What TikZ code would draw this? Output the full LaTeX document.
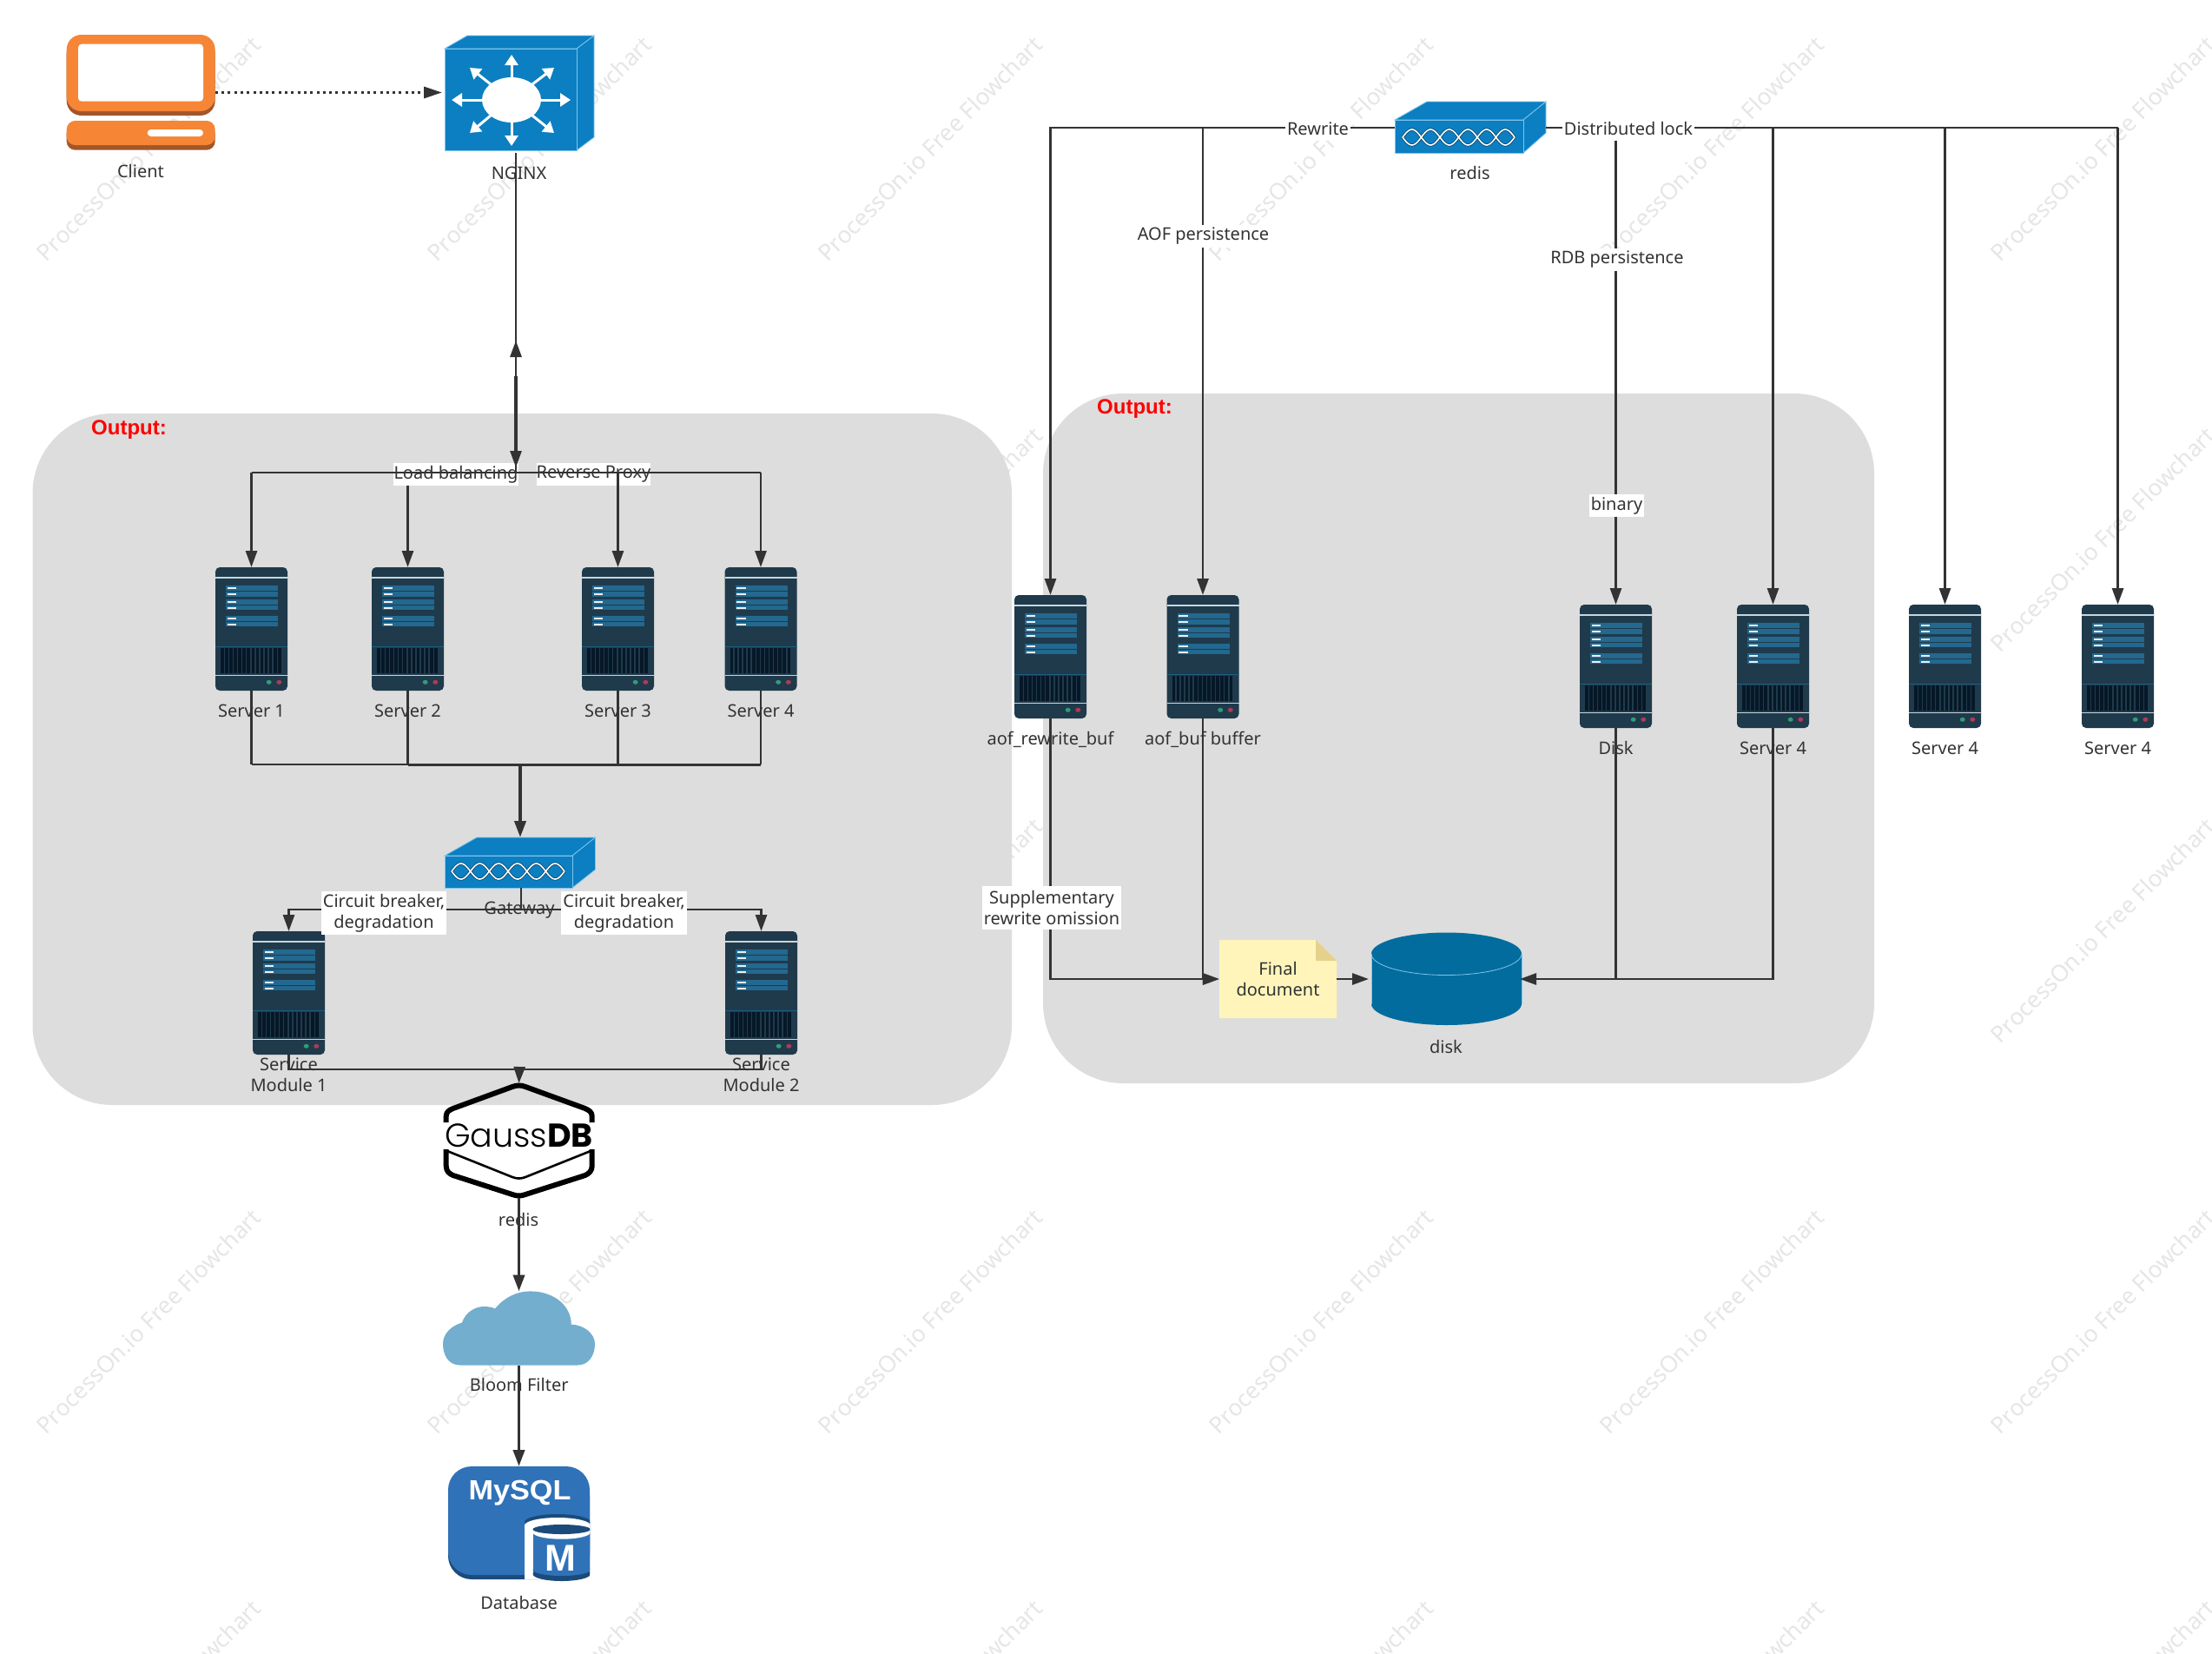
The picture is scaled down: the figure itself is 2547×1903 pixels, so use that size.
\documentclass[tikz,border=0pt]{standalone}
\usepackage{fontspec}
\setmainfont{Noto Sans}
\newfontfamily\gaussf{Poppins}
\newfontfamily\gausslight{Poppins Light}
\newfontfamily\mysqlf{Liberation Sans}
\usetikzlibrary{arrows.meta,calc}
\definecolor{linec}{HTML}{333333}
\definecolor{txtc}{HTML}{333333}
\definecolor{panel}{HTML}{DDDDDD}
\definecolor{wmark}{HTML}{E6E6E6}
\definecolor{srvbody}{HTML}{1F3A4B}
\definecolor{srvbar}{HTML}{23688F}
\definecolor{srvline}{HTML}{C8D6DE}
\definecolor{srvgrille}{HTML}{061828}
\definecolor{srvdiv}{HTML}{1D5F80}
\definecolor{ledg}{HTML}{2F9E78}
\definecolor{ledr}{HTML}{B03A56}
\definecolor{netblue}{HTML}{0B7FC1}
\definecolor{netedge}{HTML}{7FC4EA}
\definecolor{dnadark}{HTML}{0A3F5F}
\definecolor{orangem}{HTML}{F68536}
\definecolor{oranged}{HTML}{A2562A}
\definecolor{cloudc}{HTML}{73AECE}
\definecolor{mysqlb}{HTML}{2F72B8}
\definecolor{mysqld}{HTML}{1B4B7A}
\definecolor{notey}{HTML}{FFF5BB}
\definecolor{notef}{HTML}{E5D18C}
\definecolor{diskc}{HTML}{036C9E}
\tikzset{
  x=1pt,y=-1pt,
  conn/.style={draw=linec,line width=2.8pt},
  connarrow/.style={conn,-{Triangle[length=19pt,width=13pt]}},
  connthick/.style={draw=linec,line width=3.8pt,-{Triangle[length=19pt,width=13pt]}},
  iconcap/.style={text=txtc,font=\fontsize{20}{24}\selectfont,align=center,inner sep=0pt},
  edgelabel/.style={iconcap,fill=white,inner xsep=2pt,inner ysep=2pt},
  outputlabel/.style={text=red,font=\mysqlf\fontsize{24}{26}\bfseries\selectfont,inner sep=0pt,anchor=base},
  iconbox/.style={draw=none,inner sep=0pt,outer sep=0pt,rectangle},
  srvbox/.style={iconbox,fill=srvbody,rounded corners=5pt,minimum width=83pt,minimum height=142pt},
  wmtext/.style={text=wmark,font=\fontsize{26.5}{27}\selectfont,rotate=45,inner sep=0pt},
  netarrow/.style={draw=white,line width=3pt,-{Triangle[length=12pt,width=15pt]}},
}
\newcommand{\serverunit}[5]{% name, centre x, top y, label, label y
  \node[srvbox] (#1) at (#2,#3+71) {};
  \begin{scope}[shift={(#2-41.5,#3)}]
    \fill[srvline] (0,11.2) rectangle (83,12.9);
    \fill[srvline] (0,123.6) rectangle (83,125.2);
    \fill[srvdiv] (0,91.3) rectangle (83,92);
    \foreach \a/\b in {21/26.7,28.3/33.7,37/42.7,44.3/49.3,56/61.7,63.3/68.3}{
      \fill[srvbar] (12,\a) rectangle (72,\b);
      \fill[white!90!srvbar] (13.7,{(\a+\b)/2-.8}) rectangle (24.3,{(\a+\b)/2+.8});
    }
    \foreach \i in {0,...,13}{
      \fill[srvgrille] ({6+\i*5.08},93) rectangle +(3.6,29.3);
    }
    \fill[ledg] (61.7,132.3) ellipse [x radius=3,y radius=2.5];
    \fill[ledr] (73.3,132.3) ellipse [x radius=3,y radius=2.5];
  \end{scope}
  \node[iconcap] (#1-l) at (#2,#5) {#4};
}
\newcommand{\dnawave}[4]{% x0,x1,cy,amp
  \draw[dnadark,line width=3pt] plot[smooth,domain=0:1,samples=73] ({#1+(#2-#1)*\x},{#3+#4*sin(1080*\x)});
  \draw[dnadark,line width=3pt] plot[smooth,domain=0:1,samples=73] ({#1+(#2-#1)*\x},{#3-#4*sin(1080*\x)});
  \draw[white,line width=1.6pt] plot[smooth,domain=0:1,samples=73] ({#1+(#2-#1)*\x},{#3+#4*sin(1080*\x)});
  \draw[white,line width=1.6pt] plot[smooth,domain=0:1,samples=73] ({#1+(#2-#1)*\x},{#3-#4*sin(1080*\x)});
}
\begin{document}
\begin{tikzpicture}
\useasboundingbox (0,0) rectangle (2547,1903);
\fill[white] (0,0) rectangle (2547,1903);
% watermark
\begin{scope}
  \clip (0,0) rectangle (2547,1903);
  \foreach \wx in {171,621,1071,1521,1971,2421}{
    \foreach \wy in {171,621,1071,1521,1971}{
      \node[wmtext] at (\wx,\wy) {ProcessOn.io Free Flowchart};
    }
  }
\end{scope}
% panels
\fill[panel,rounded corners=92pt] (37.5,476) rectangle (1165,1272);
\fill[panel,rounded corners=92pt] (1201,453) rectangle (2158,1247);
\node[outputlabel] (outL) at (148.5,500) {Output:};
\node[outputlabel] (outR) at (1306.5,476) {Output:};

% client
\node[iconbox,minimum width=171pt,minimum height=133pt] (client) at (162.2,106.5) {};
\fill[oranged,rounded corners=17pt] (76.7,45) rectangle (247.7,133);
\fill[orangem,rounded corners=17pt] (76.7,40) rectangle (247.7,128);
\fill[white,rounded corners=4pt] (90,50.7) rectangle (234,116.7);
\fill[oranged,rounded corners=10pt] (76.7,144) rectangle (247.7,172.7);
\fill[orangem,rounded corners=10pt] (76.7,139) rectangle (247.7,167);
\fill[white,rounded corners=4pt] (169.7,149) rectangle (234,157);
\node[iconcap] (clientl) at (162,197) {Client};

% nginx
\node[iconbox,minimum width=152pt,minimum height=117pt] (nginx) at (588,114.5) {};
\filldraw[fill=netblue,draw=netedge,line width=.8pt] (512,56) -- (538,41) -- (684,41) -- (664,56) -- cycle;
\filldraw[fill=netblue,draw=netedge,line width=.8pt] (664,56) -- (684,41) -- (684,158) -- (664,173) -- cycle;
\filldraw[fill=netblue,draw=netedge,line width=.8pt] (512,56) rectangle (664,173);
\fill[white] (589,115) ellipse [x radius=34,y radius=26];
\draw[netarrow] (589,90) -- (589,63);
\draw[netarrow] (589,140) -- (589,168);
\draw[netarrow] (556,115) -- (520,115);
\draw[netarrow] (622,115) -- (657,115);
\draw[netarrow] (565,97) -- (541,78);
\draw[netarrow] (613,97) -- (638,78);
\draw[netarrow] (565,133) -- (541,153);
\draw[netarrow] (613,133) -- (638,153);
\node[iconcap] (nginxl) at (597.5,199) {NGINX};

% servers, left panel
\serverunit{s1}{289.5}{653}{Server 1}{818}
\serverunit{s2}{469.5}{653}{Server 2}{818}
\serverunit{s3}{711.5}{653}{Server 3}{818}
\serverunit{s4}{876}{653}{Server 4}{818}
\serverunit{m1}{332.5}{1072}{Service\\Module 1}{1237}
\serverunit{m2}{876.5}{1072}{Service\\Module 2}{1237}
% servers, right
\serverunit{a1}{1209.5}{685}{aof\_rewrite\_buf}{851}
\serverunit{a2}{1385}{685}{aof\_buf buffer}{851}
\serverunit{d1}{1860.5}{696}{Disk}{861}
\serverunit{r1}{2041.5}{696}{Server 4}{861}
\serverunit{r2}{2239.5}{696}{Server 4}{861}
\serverunit{r3}{2438.5}{696}{Server 4}{861}

% gateway
\node[iconbox,minimum width=147pt,minimum height=37pt] (gw) at (585.5,1003.5) {};
\filldraw[fill=netblue,draw=netedge,line width=.8pt] (512,985) -- (549,964) -- (685.5,964) -- (659,985) -- cycle;
\filldraw[fill=netblue,draw=netedge,line width=.8pt] (659,985) -- (685.5,964) -- (685.5,1001) -- (659,1022) -- cycle;
\filldraw[fill=netblue,draw=netedge,line width=.8pt] (512,985) rectangle (659,1022);
\dnawave{520}{650}{1003}{9}
\node[iconcap] (gwl) at (598,1048) {Gateway};

% redis switch
\node[iconbox,minimum width=148pt,minimum height=38pt] (redis) at (1680,157) {};
\filldraw[fill=netblue,draw=netedge,line width=.8pt] (1606,138) -- (1643,117) -- (1780,117) -- (1754,138) -- cycle;
\filldraw[fill=netblue,draw=netedge,line width=.8pt] (1754,138) -- (1780,117) -- (1780,153) -- (1754,176) -- cycle;
\filldraw[fill=netblue,draw=netedge,line width=.8pt] (1606,138) rectangle (1754,176);
\dnawave{1615}{1744}{158}{9}
\node[iconcap] (redisl) at (1692.5,199) {redis};

% gaussdb
\node[iconbox,minimum width=173pt,minimum height=132pt] (gauss) at (597.5,1313) {};
\draw[black,line width=6pt,line join=round] (513.7,1292) -- (513.7,1285) .. controls (513.7,1280) and (517,1278) .. (521.7,1276) -- (590,1251) .. controls (595,1249) and (600,1249) .. (605,1251) -- (673.7,1276) .. controls (678,1278) and (681.7,1280) .. (681.7,1285) -- (681.7,1292);
\draw[black,line width=6pt,line join=round] (513.7,1323) -- (513.7,1342) .. controls (513.7,1348) and (517,1351) .. (521.7,1353) -- (590,1375) .. controls (595,1377) and (600,1377) .. (605,1375) -- (673.7,1353) .. controls (678,1351) and (681.7,1348) .. (681.7,1342) -- (681.7,1323);
\draw[black,line width=2.6pt] (515,1325) -- (590,1355) .. controls (595,1357) and (600,1357) .. (605,1355) -- (680,1325);
\node[inner sep=0pt,text=black,anchor=base] (gausst) at (597.5,1320) {{\gausslight\fontsize{38}{38}\selectfont Gauss}{\gaussf\fontsize{38}{38}\bfseries\selectfont DB}};
\node[iconcap] (gaussl) at (597,1403.5) {redis};

% cloud
\node[iconbox,minimum width=175pt,minimum height=85pt] (cloud) at (597.5,1529) {};
\fill[cloudc] (530,1571.5) .. controls (515,1571.5) and (510,1558) .. (510,1547)
  .. controls (510,1535) and (520,1526) .. (532,1522.5)
  .. controls (536,1510) and (548,1504) .. (557,1504)
  .. controls (563,1504) and (567,1505) .. (570,1506.5)
  .. controls (580,1494) and (595,1486.4) .. (610,1486.4)
  .. controls (640,1486.4) and (658,1505) .. (657.7,1524.6)
  .. controls (672,1525) and (685,1535) .. (685,1547)
  .. controls (685,1560) and (678,1571.5) .. (665,1571.5) -- cycle;
\node[iconcap] (cloudl) at (597.7,1594) {Bloom Filter};

% mysql
\node[iconbox,minimum width=163pt,minimum height=133pt] (mysql) at (597.5,1754.5) {};
\begin{scope}
  \clip (510,1680) rectangle (679,1830);
  \fill[mysqld,rounded corners=27pt] (516,1695) rectangle (679,1818);
  \fill[mysqlb,rounded corners=27pt] (516,1688) rectangle (679,1813);
  \fill[mysqlb] (650,1760) rectangle (679,1813);
  \fill[mysqld] (642,1752) ellipse [x radius=38,y radius=9];
  \fill[white] (642,1756) ellipse [x radius=38,y radius=9];
  \fill[white] (604,1756) rectangle (680,1818);
  \fill[mysqld] (613.5,1764) rectangle (680,1812);
  \fill[mysqld] (646.7,1812) ellipse [x radius=33.2,y radius=8];
  \fill[mysqlb] (613.5,1764) rectangle (680,1807);
  \fill[mysqlb] (646.7,1807) ellipse [x radius=33.2,y radius=7];
  \fill[white] (646.7,1764) ellipse [x radius=33.2,y radius=7.7];
  \fill[mysqld] (646.7,1760.5) ellipse [x radius=33.2,y radius=5.5];
\end{scope}
\node[inner sep=0pt,text=white,anchor=base] (mysqlt) at (598.5,1726) {\scalebox{1.07}[1]{\mysqlf\fontsize{32}{33}\bfseries\selectfont MySQL}};
\node[inner sep=0pt,text=white] (mysqlm) at (645.7,1794) {\mysqlf\fontsize{43}{43}\bfseries\selectfont M};
\node[iconcap] (mysqll) at (597.7,1845) {Database};

% note
\fill[notey] (1404,1082) -- (1515,1082) -- (1539,1106) -- (1539,1172) -- (1404,1172) -- cycle;
\fill[notef] (1515,1082) -- (1539,1106) -- (1515,1106) -- cycle;
\node[iconcap,minimum width=135pt,minimum height=90pt] (note) at (1471.5,1127) {Final\\document};

% disk
\node[iconbox,minimum width=173pt,minimum height=106pt] (disk) at (1665.5,1127) {};
\fill[diskc] (1665.5,1098) ellipse [x radius=86.5,y radius=24.5];
\fill[diskc] (1579,1098) rectangle (1752,1155.5);
\fill[diskc] (1665.5,1155.5) ellipse [x radius=86.5,y radius=24.5];
\draw[netedge,line width=.8pt] plot[smooth,domain=0:180,samples=37] ({1665.5+86.5*cos(\x)},{1098+24.5*sin(\x)});
\draw[netedge,line width=.5pt] (1579,1098) -- (1579,1155.5);
\draw[netedge,line width=.5pt] (1752,1098) -- (1752,1155.5);
\node[iconcap] (diskl) at (1665,1205) {disk};

% labels with the line struck over them
\node[iconcap,fill=white,minimum width=144pt,minimum height=26pt] (lb) at (525,546) {Load balancing};
\node[iconcap,fill=white,minimum width=131pt,minimum height=26pt] (rp) at (683.5,546) {Reverse Proxy};

% bus points
\coordinate (hub) at (594,544);
\coordinate (nginxout) at (594,176);
\coordinate (uptip) at (594,392);
\coordinate (thicka) at (594,433);
\coordinate (thickb) at (594,525);
\coordinate (bus2) at (599,880);
\coordinate (gwtop) at (599,964);
\coordinate (gwout) at (600,1022);
\coordinate (gwbus) at (600,1047);
\coordinate (dbbus) at (598,1231);
\coordinate (busl) at (1606,147);
\coordinate (busr) at (1780,147);

% connectors
\draw[draw=linec,line width=3pt,dash pattern=on 3pt off 4.3pt,-{Triangle[length=21pt,width=13pt]},shorten >=3pt] (client.east) -- (client.east -| nginx.west);

\draw[connarrow,shorten >=6pt] (nginxout) -- (hub);
\draw[connarrow] (hub) -- (uptip);
\draw[draw=linec,line width=4.5pt] (thicka) -- (thickb);
\draw[conn] (s1.north |- hub) -- (s4.north |- hub);
\draw[connarrow] (s1.north |- hub) -- (s1.north);
\draw[connarrow] (lb.south -| s2.north) -- (s2.north);
\draw[connarrow] (s3.north |- hub) -- (s3.north);
\draw[connarrow] (s4.north |- hub) -- (s4.north);
\foreach \n in {s1,s2,s3,s4}{
  \draw[conn] (\n.south) -- (\n.south |- bus2);
}
\draw[conn] (s1.south |- bus2) -- (s2.south |- bus2);
\draw[draw=linec,line width=3pt] (s2.south |- bus2) -- (s4.south |- bus2);
\draw[connthick] (bus2) -- (gwtop);
\draw[conn] (gwout) -- (gwbus);
\draw[connarrow] (gwbus) -| (m1.north);
\draw[connarrow] (gwbus) -| (m2.north);
\draw[conn] (m1.south) |- (dbbus);
\draw[conn] (m2.south) |- (dbbus);
\draw[connarrow] (dbbus) -- (gauss.north);
\draw[connthick] (gauss.south) -- (cloud.north);
\draw[connthick] (cloud.south) -- (mysql.north);

\draw[connarrow] (busl) -| (a1.north);
\draw[connarrow] (a2.north |- busl) -- (a2.north);
\draw[conn] (busr) -- (r3.north |- busr);
\draw[connarrow] (d1.north |- busr) -- (d1.north);
\draw[connarrow] (r1.north |- busr) -- (r1.north);
\draw[connarrow] (r2.north |- busr) -- (r2.north);
\draw[connarrow] (r3.north |- busr) -- (r3.north);
\draw[connarrow] (a1.south) |- (note.west);
\draw[connarrow] (a2.south) |- (note.west);
\draw[connarrow,shorten >=3pt] (note.east) -- (disk.west);
\draw[connarrow,shorten >=-2pt] (r1.south) |- (disk.east);
\draw[conn] (d1.south) -- (d1.south |- disk.east);

% labels over the lines
\node[edgelabel,minimum width=140pt,minimum height=50pt] (cbl) at (442,1051) {Circuit breaker,\\degradation};
\node[edgelabel,minimum width=141pt,minimum height=50pt] (cbr) at (718.5,1051) {Circuit breaker,\\degradation};
\node[edgelabel,minimum width=156pt,minimum height=50pt] (sup) at (1211,1045) {Supplementary\\rewrite omission};
\node[edgelabel,minimum width=73pt,minimum height=28pt] (rew) at (1517.5,148) {Rewrite};
\node[edgelabel,minimum width=150pt,minimum height=28pt] (dlk) at (1875,148) {Distributed lock};
\node[edgelabel,minimum width=150pt,minimum height=26pt] (aofp) at (1385.5,272) {AOF persistence};
\node[edgelabel,minimum width=150pt,minimum height=26pt] (rdbp) at (1862,299) {RDB persistence};
\node[edgelabel,minimum width=61pt,minimum height=26pt] (bin) at (1861.5,582) {binary};
\end{tikzpicture}
\end{document}
